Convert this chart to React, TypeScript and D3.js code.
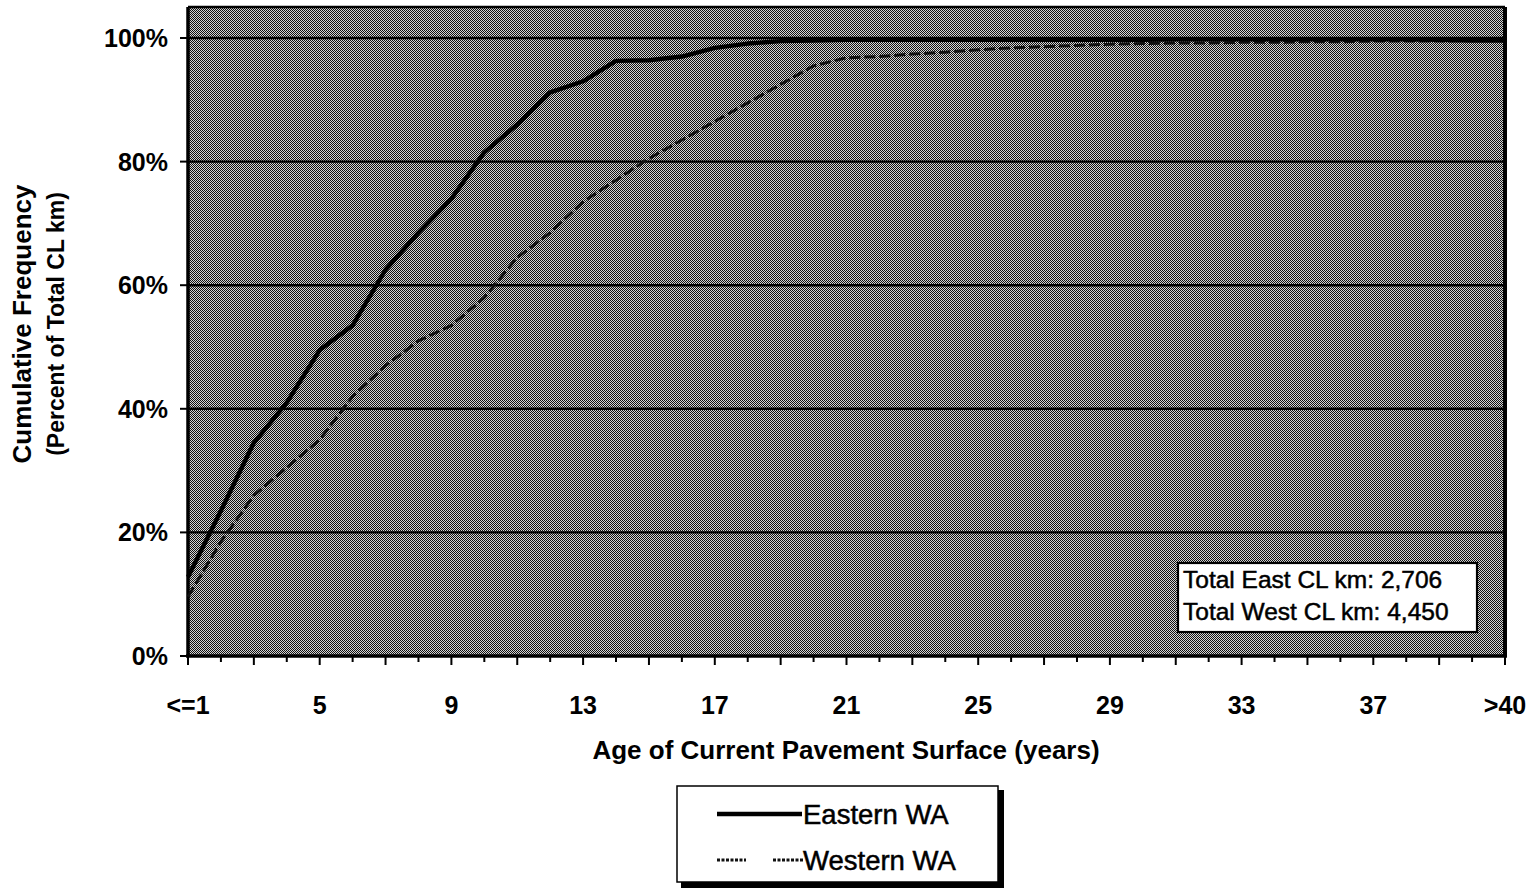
import React from "react";
import * as d3 from "d3";

const categories: string[] = ["<=1", ...d3.range(2, 41).map(String), ">40"];
const tickLabelIdx: number[] = [0, 4, 8, 12, 16, 20, 24, 28, 32, 36, 40];
const eastern: number[] = [
  12.8, 23.5, 34.5, 41, 49.5, 53.5, 62.5, 68.5, 74, 81.5,
  86, 91.2, 93, 96.3, 96.4, 97, 98.4, 99.1, 99.5, 99.6,
  99.7, 99.7, 99.7, 99.7, 99.7, 99.7, 99.7, 99.7, 99.7, 99.7,
  99.8, 99.8, 99.8, 99.8, 99.8, 99.8, 99.8, 99.8, 99.7, 99.6, 99.6,
];
const western: number[] = [
  9.6, 18.5, 26, 30.5, 35, 42, 47, 51, 53.5, 58,
  64.5, 68.5, 73.5, 77, 80.5, 83.5, 86.5, 89.5, 92.5, 95.5,
  96.8, 97, 97.4, 97.7, 98.1, 98.4, 98.6, 98.8, 99, 99.1,
  99.2, 99.2, 99.3, 99.3, 99.4, 99.4, 99.5, 99.5, 99.5, 99.6, 99.6,
];
const yTicks: number[] = [0, 20, 40, 60, 80, 100];
const notes: string[] = ["Total East CL km: 2,706", "Total West CL km: 4,450"];
const legendItems = [
  { name: "Eastern WA", key: "east" },
  { name: "Western WA", key: "west" },
];

const FONT = "'Liberation Sans', Arial, sans-serif";

export default function App() {
  const left = 188, right = 1505, top = 7, bottom = 656;
  const x = d3.scaleLinear().domain([0, categories.length - 1]).range([left, right]);
  const y = d3.scaleLinear().domain([0, 100]).range([bottom, 38]);
  const line = d3.line<number>().x((_, i) => x(i)).y((d) => y(d));

  return (
    <svg width={1537} height={890} style={{ position: "absolute", left: 0, top: 0, background: "#fff" }}>
      <defs>
        <pattern id="dith" width="2" height="2" patternUnits="userSpaceOnUse">
          <rect x="0" y="0" width="2" height="2" fill="#d4d4d4" />
          <rect x="0" y="0" width="1" height="1" fill="#111" />
          <rect x="1" y="1" width="1" height="1" fill="#111" />
        </pattern>
      </defs>
      {/* plot area */}
      <rect x={left} y={top} width={right - left} height={bottom - top} fill="url(#dith)" />
      {/* gridlines */}
      {yTicks.filter((t) => t > 0).map((t) => (
        <line key={t} x1={left} x2={right} y1={y(t)} y2={y(t)} stroke="#000" strokeWidth={2.4} />
      ))}
      {/* frame */}
      <line x1={left} x2={right} y1={top} y2={top} stroke="#000" strokeWidth={2.5} />
      <line x1={right} x2={right} y1={top} y2={bottom} stroke="#000" strokeWidth={4} />
      <line x1={left} x2={left} y1={top} y2={bottom + 1} stroke="#000" strokeWidth={3.5} />
      <line x1={left - 2} x2={right + 2} y1={bottom} y2={bottom} stroke="#000" strokeWidth={3.5} />
      {/* y ticks */}
      {yTicks.map((t) => (
        <g key={t}>
          <line x1={left - 8} x2={left} y1={y(t)} y2={y(t)} stroke="#000" strokeWidth={2} />
          <text x={168} y={y(t)} dy="0.36em" textAnchor="end" fontFamily={FONT} fontWeight="bold" fontSize={25}>
            {t}%
          </text>
        </g>
      ))}
      {/* x ticks */}
      {categories.map((c, i) => (
        <line key={c} x1={x(i)} x2={x(i)} y1={bottom} y2={bottom + (i % 2 === 0 ? 9 : 6)} stroke="#000" strokeWidth={2} />
      ))}
      {tickLabelIdx.map((i) => (
        <text key={i} x={x(i)} y={714} textAnchor="middle" fontFamily={FONT} fontWeight="bold" fontSize={25}>
          {categories[i]}
        </text>
      ))}
      {/* series */}
      <path d={line(western) || ""} fill="none" stroke="#111" strokeWidth={3} strokeDasharray="11 4" />
      <path d={line(eastern) || ""} fill="none" stroke="#000" strokeWidth={4.4} strokeLinejoin="round" />
      {/* notes box */}
      <rect x={1178} y={563} width={299} height={69} fill="#fff" stroke="#000" strokeWidth={2.2} />
      {notes.map((n, i) => (
        <text key={n} x={1183} y={588 + i * 32} fontFamily={FONT} fontSize={24.5} stroke="#000" strokeWidth={0.5}>
          {n}
        </text>
      ))}
      {/* axis titles */}
      <text x={846} y={759} textAnchor="middle" fontFamily={FONT} fontWeight="bold" fontSize={26}>
        Age of Current Pavement Surface (years)
      </text>
      <text transform="translate(31,324) rotate(-90)" textAnchor="middle" fontFamily={FONT} fontWeight="bold" fontSize={26}>
        Cumulative Frequency
      </text>
      <text transform="translate(64,324) rotate(-90)" textAnchor="middle" fontFamily={FONT} fontWeight="bold" fontSize={23}>
        (Percent of Total CL km)
      </text>
      {/* legend */}
      <rect x={681} y={790} width={323} height={98} fill="#000" />
      <rect x={677} y={786} width={321} height={96} fill="#fff" stroke="#000" strokeWidth={1.5} />
      {legendItems.map((it, i) => {
        const ly = 814 + i * 46;
        return (
          <g key={it.key}>
            {it.key === "east" ? (
              <line x1={717} x2={802} y1={ly} y2={ly} stroke="#000" strokeWidth={4.4} />
            ) : (
              <g>
                <line x1={717} x2={746} y1={ly} y2={ly} stroke="#111" strokeWidth={3} strokeDasharray="3 1.5" />
                <line x1={773} x2={804} y1={ly} y2={ly} stroke="#111" strokeWidth={3} strokeDasharray="3 1.5" />
              </g>
            )}
            <text x={803} y={ly} dy="0.36em" fontFamily={FONT} fontSize={27.5} stroke="#000" strokeWidth={0.5}>
              {it.name}
            </text>
          </g>
        );
      })}
    </svg>
  );
}
